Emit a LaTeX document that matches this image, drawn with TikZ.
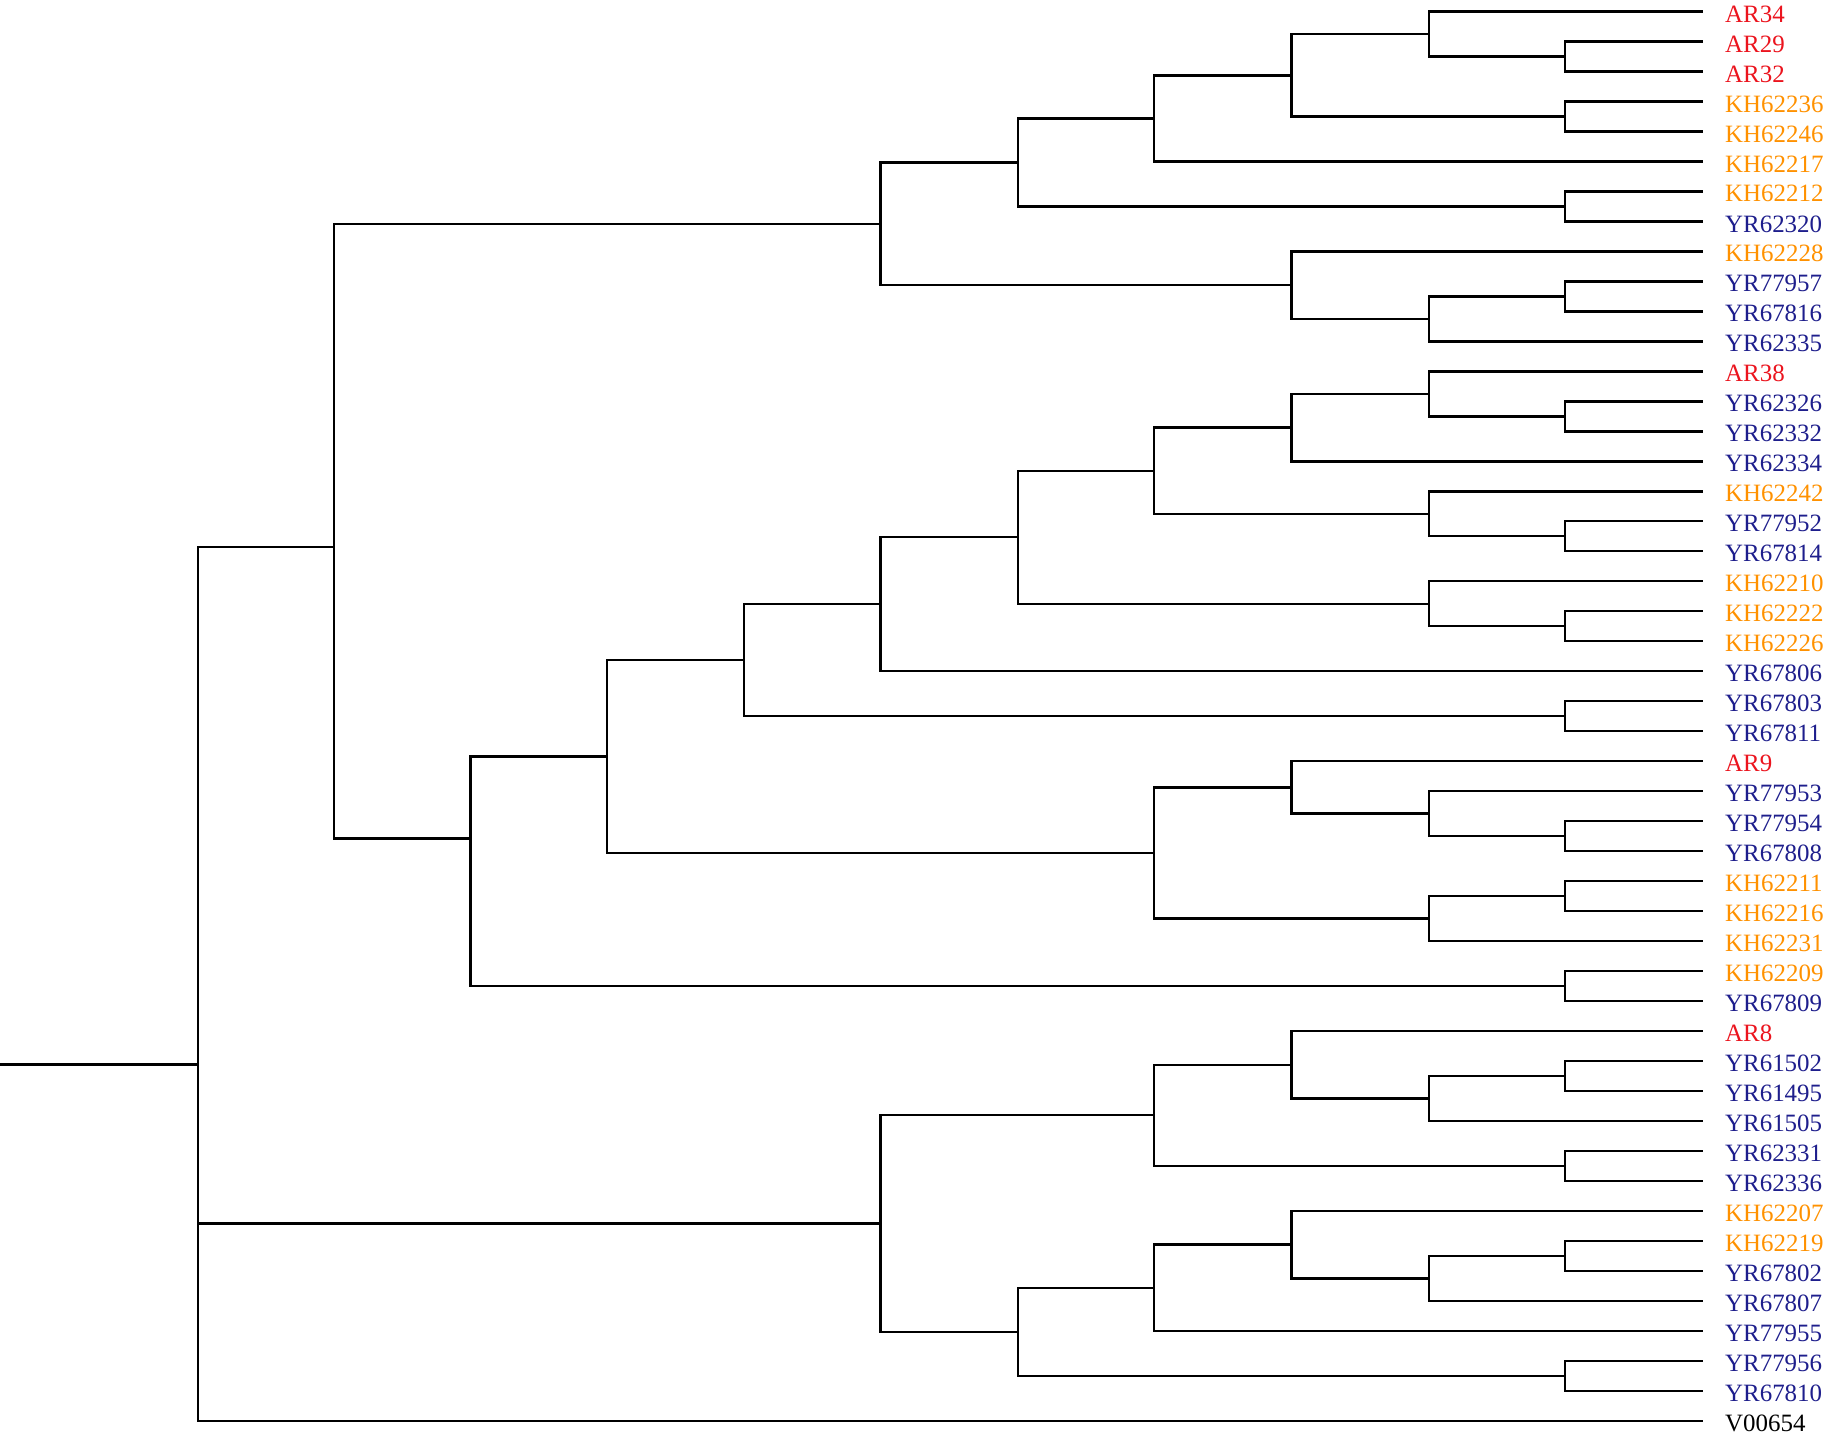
\documentclass[tikz,border=0pt]{standalone}
\usepackage{fontspec}
\setmainfont{Liberation Serif}
\usetikzlibrary{calc}
\definecolor{cr}{RGB}{235,20,30}
\definecolor{co}{RGB}{255,145,0}
\definecolor{cb}{RGB}{30,30,140}
\definecolor{ck}{RGB}{0,0,0}
\newcommand\lf[3]{\coordinate (L#1) at (1462,{10+25.745*#1});
 \node[lab,text=c#3] (N#1) at (1481,{12+25.745*#1}) {#2};}
\newcommand\inode[4]{\path let \p1=(#3),\p2=(#4) in coordinate (#1) at ({#2*0.5pt},{0.5*(\y1+\y2)});
 \draw[br] (#3) -- (#1 |- #3) -- (#1 |- #4) -- (#4);}
\newcommand\fnode[5]{\coordinate (#1) at (#2,#5);
 \draw[br] (#3) -- (#1 |- #3) -- (#1 |- #4) -- (#4);}
\begin{document}
\begin{tikzpicture}[x=0.5pt,y=-0.5pt,br/.style={line width=1pt,black},
 lab/.style={anchor=west,inner sep=0pt,font=\fontsize{10.7}{12}\selectfont}]
\useasboundingbox (0,0) rectangle (1568,1235);
\lf{0}{AR34}{r}\lf{1}{AR29}{r}\lf{2}{AR32}{r}\lf{3}{KH62236}{o}\lf{4}{KH62246}{o}
\lf{5}{KH62217}{o}\lf{6}{KH62212}{o}\lf{7}{YR62320}{b}\lf{8}{KH62228}{o}\lf{9}{YR77957}{b}
\lf{10}{YR67816}{b}\lf{11}{YR62335}{b}\lf{12}{AR38}{r}\lf{13}{YR62326}{b}\lf{14}{YR62332}{b}
\lf{15}{YR62334}{b}\lf{16}{KH62242}{o}\lf{17}{YR77952}{b}\lf{18}{YR67814}{b}\lf{19}{KH62210}{o}
\lf{20}{KH62222}{o}\lf{21}{KH62226}{o}\lf{22}{YR67806}{b}\lf{23}{YR67803}{b}\lf{24}{YR67811}{b}
\lf{25}{AR9}{r}\lf{26}{YR77953}{b}\lf{27}{YR77954}{b}\lf{28}{YR67808}{b}\lf{29}{KH62211}{o}
\lf{30}{KH62216}{o}\lf{31}{KH62231}{o}\lf{32}{KH62209}{o}\lf{33}{YR67809}{b}\lf{34}{AR8}{r}
\lf{35}{YR61502}{b}\lf{36}{YR61495}{b}\lf{37}{YR61505}{b}\lf{38}{YR62331}{b}\lf{39}{YR62336}{b}
\lf{40}{KH62207}{o}\lf{41}{KH62219}{o}\lf{42}{YR67802}{b}\lf{43}{YR67807}{b}\lf{44}{YR77955}{b}
\lf{45}{YR77956}{b}\lf{46}{YR67810}{b}\lf{47}{V00654}{k}
\inode{a1}{1344}{L1}{L2}\inode{a2}{1227}{L0}{a1}\inode{a3}{1344}{L3}{L4}
\inode{a4}{1109}{a2}{a3}\inode{a5}{991}{a4}{L5}\inode{a6}{1344}{L6}{L7}
\inode{a7}{874}{a5}{a6}\inode{a8}{1344}{L9}{L10}\inode{a9}{1227}{a8}{L11}
\inode{a10}{1109}{L8}{a9}\inode{A}{756}{a7}{a10}
\inode{b1}{1344}{L13}{L14}\inode{b2}{1227}{L12}{b1}\inode{b3}{1109}{b2}{L15}
\inode{b4}{1344}{L17}{L18}\inode{b5}{1227}{L16}{b4}\inode{b6}{991}{b3}{b5}
\inode{b7}{1344}{L20}{L21}\inode{b8}{1227}{L19}{b7}\inode{b9}{874}{b6}{b8}
\inode{b10}{756}{b9}{L22}\inode{b11}{1344}{L23}{L24}\inode{b12}{639}{b10}{b11}
\inode{c1}{1344}{L27}{L28}\inode{c2}{1227}{L26}{c1}\inode{c3}{1109}{L25}{c2}
\inode{c4}{1344}{L29}{L30}\inode{c5}{1227}{c4}{L31}\inode{c6}{991}{c3}{c5}
\inode{B}{521}{b12}{c6}\inode{c7}{1344}{L32}{L33}\fnode{C}{404}{B}{c7}{720}
\fnode{D}{287}{A}{C}{470}
\inode{d1}{1344}{L35}{L36}\inode{d2}{1227}{d1}{L37}\inode{d3}{1109}{L34}{d2}
\inode{d4}{1344}{L38}{L39}\inode{d5}{991}{d3}{d4}
\inode{e1}{1344}{L41}{L42}\inode{e2}{1227}{e1}{L43}\inode{e3}{1109}{L40}{e2}
\inode{e4}{991}{e3}{L44}\inode{e5}{1344}{L45}{L46}\inode{e6}{874}{e4}{e5}
\inode{E}{756}{d5}{e6}
\coordinate (R) at (170,914);
\coordinate (R0) at (0,914);
\draw[br] (D) -- (R |- D) -- (R |- L47) -- (L47);
\draw[br] (R |- E) -- (E);
\draw[br] (R0) -- (R);
\end{tikzpicture}
\end{document}
